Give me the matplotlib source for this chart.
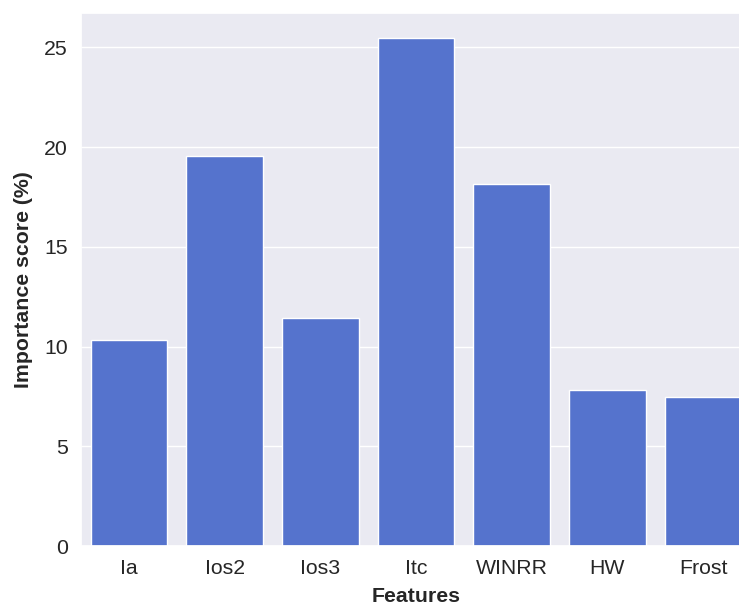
import matplotlib
matplotlib.use('Agg')
import matplotlib.pyplot as plt
import seaborn as sns
import pandas as pd

features = ['Ia', 'Ios2', 'Ios3', 'Itc', 'WINRR', 'HW', 'Frost']
importance = [10.32, 19.54, 11.42, 25.45, 18.14, 7.82, 7.46]

sns.set_theme(style='darkgrid')
plt.rcParams['font.family'] = ['Liberation Sans', 'DejaVu Sans']

df = pd.DataFrame({'Features': features, 'Importance score (%)': importance})

fig = plt.figure(figsize=(7.39, 6.05), dpi=100)
# axes runs past the right edge, like the cropped original
ax = fig.add_axes([81 / 739, 1 - 546 / 605, 670 / 739, 533 / 605])
sns.barplot(data=df, x='Features', y='Importance score (%)', color='royalblue', ax=ax)

ax.set_xlabel('Features', fontsize=15.3, fontweight='bold', labelpad=7)
ax.set_ylabel('Importance score (%)', fontsize=15.3, fontweight='bold', labelpad=8)
ax.tick_params(axis='x', labelsize=15.3, pad=3)
ax.tick_params(axis='y', labelsize=15.3)
ax.set_yticks([0, 5, 10, 15, 20, 25])

fig.savefig('out.png', dpi=100)
